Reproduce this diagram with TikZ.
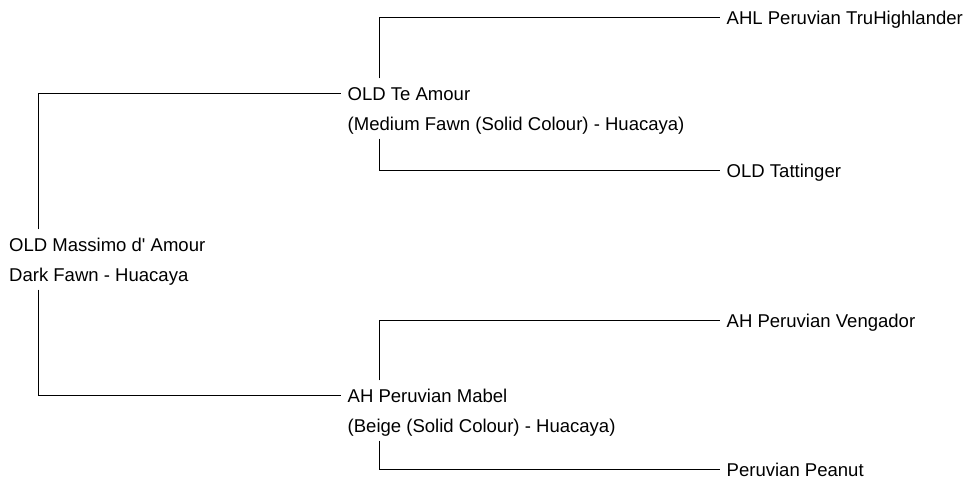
\documentclass[tikz,border=0pt]{standalone}
\usepackage{fontspec}
\setmainfont{Liberation Sans}
\usetikzlibrary{positioning}

\tikzset{
    animal/.style={anchor=west, font=\fontsize{13.9}{16}\selectfont,
        inner xsep=4.8pt, inner ysep=6.2pt, text height=9.9pt, text depth=0pt},
    colour/.style={anchor=base west, font=\fontsize{13.9}{16}\selectfont,
        inner xsep=4.8pt, inner ysep=6.2pt, text height=0pt, text depth=0pt},
    link/.style={line width=0.8pt}
}

\begin{document}
\begin{tikzpicture}[x=0.75pt, y=-0.75pt]
        \useasboundingbox (0,0) rectangle (966,480);

        % names of the animals
        \foreach \v/\x/\y/\t in
        {root/2.5/244.5/{OLD Massimo d\textquotesingle\ Amour},
            sire/341/93.5/{OLD Te Amour},
            dam/341/395.5/{AH Peruvian Mabel},
            ss/720/17.5/{AHL Peruvian TruHighlander},
            sd/720/170.5/{OLD Tattinger},
            ds/720/320.5/{AH Peruvian Vengador},
            dd/720/469.5/{Peruvian Peanut}
        }
        {
            \node[animal] (\v) at (\x,\y) {\t};
        };

        % colour lines
        \foreach \v/\t in
        {root/{Dark Fawn - Huacaya},
            sire/{(Medium Fawn (Solid Colour) - Huacaya)},
            dam/{(Beige (Solid Colour) - Huacaya)}
        }
        {
            \node[colour] (\v-col) at ([yshift=-22.5pt]\v.base west) {\t};
        };

        \coordinate (root-bar) at (38.5, 0);
        \coordinate (sire-bar) at (379.5, 0);
        \coordinate (dam-bar) at (379.5, 0);

        \foreach \p/\s/\d in {root/sire/dam, sire/ss/sd, dam/ds/dd}
        {
            \draw[link] (\p-bar |- \p.north) -- (\p-bar |- \s.west) -- (\s.west);
            \draw[link] (\p-bar |- \p-col.south) -- (\p-bar |- \d.west) -- (\d.west);
        };

        \end{tikzpicture}
\end{document}
